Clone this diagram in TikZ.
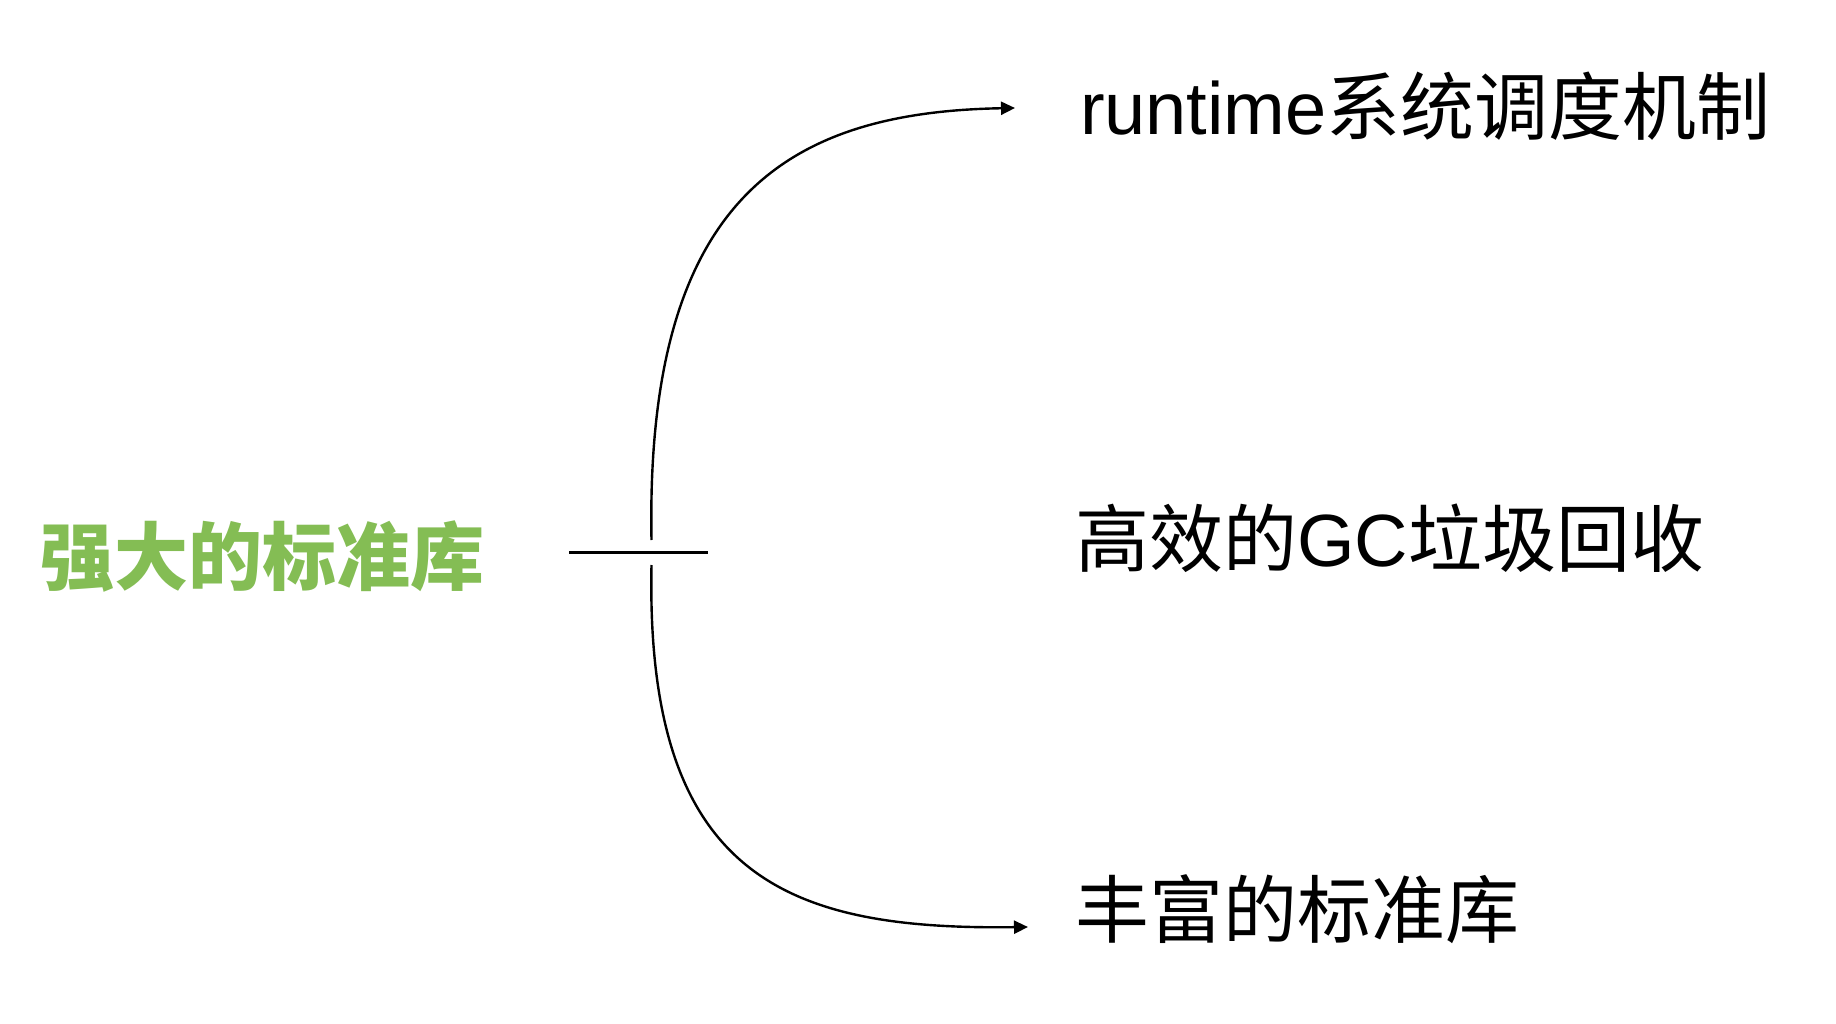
\documentclass[tikz,border=0pt]{standalone}
\usepackage{fontspec}
\setmainfont{Liberation Sans}
\newfontfamily\cjk{Noto Sans CJK SC}
\usetikzlibrary{arrows.meta}
\definecolor{leafgreen}{RGB}{132,189,84}
\tikzset{
  label text/.style={inner sep=0pt, outer sep=0pt, anchor=base west, font=\fontsize{74}{80}\selectfont},
  link/.style={line width=2.4pt, -{Triangle[length=14pt,width=13pt]}},
}
\begin{document}
\begin{tikzpicture}[x=1pt,y=-1pt]
\useasboundingbox[fill=white] (0,0) rectangle (1836,1024);
\node[label text, text=leafgreen, font=\fontsize{74}{80}\selectfont\cjk\bfseries] (src) at (40,584) {强大的标准库};
\node[label text] (t1) at (1080,135) {runtime{\cjk 系统调度机制}};
\node[label text] (t2) at (1075,566) {{\cjk 高效的}GC{\cjk 垃圾回收}};
\node[label text] (t3) at (1075,937) {\cjk 丰富的标准库};
\coordinate (barL) at (569,552);
\coordinate (barR) at (708,552);
\coordinate (s1) at (651.5,540);
\coordinate (s2) at (651.5,565);
\coordinate (e1) at (1015,108);
\coordinate (e2) at (1028,927);
\draw[line width=3pt] (barL) -- (barR);
\draw[link] (s1) .. controls (645,195) and (790,112) .. (e1);
\draw[link] (s2) .. controls (645,880) and (790,930) .. (e2);
\end{tikzpicture}
\end{document}
